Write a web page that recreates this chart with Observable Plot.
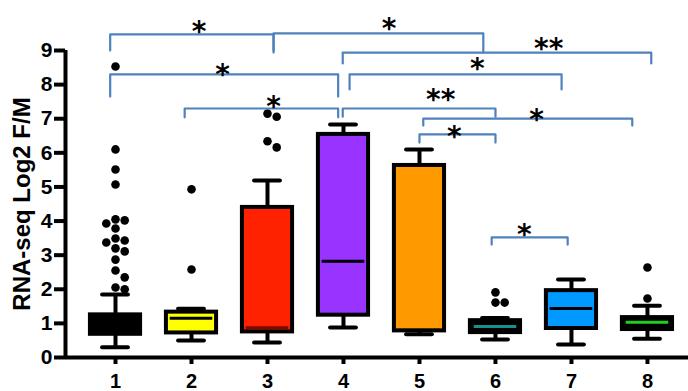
<!DOCTYPE html>
<html>
<head>
<meta charset="utf-8">
<script src="https://cdn.jsdelivr.net/npm/d3@7"></script>
<script src="https://cdn.jsdelivr.net/npm/@observablehq/plot@0.6"></script>
<style>
  html, body { margin: 0; padding: 0; background: #fff; }
</style>
</head>
<body>
<div id="chart"></div>
<script>
// ---- data ----
const categories   = [1, 2, 3, 4, 5, 6, 7, 8];
const boxFill      = ["#000000", "#ffff00", "#ff2200", "#9933ff", "#ff9900", "#000000", "#0099ff", "#000000"];
const medianColor  = ["#000000", "#000000", "#7a0a00", "#000000", "#000000", "#1a8f8f", "#000000", "#22cc22"];
const q1           = [0.68, 0.72, 0.75, 1.24, 0.78, 0.73, 0.85, 0.82];
const median       = [0.95, 1.15, 0.87, 2.82, 0.80, 0.91, 1.44, 1.03];
const q3           = [1.25, 1.33, 4.40, 6.54, 5.63, 1.08, 1.96, 1.17];
const whiskerLow   = [0.30, 0.50, 0.44, 0.88, 0.68, 0.53, 0.38, 0.55];
const whiskerHigh  = [1.85, 1.43, 5.19, 6.83, 6.10, 1.16, 2.29, 1.52];

const outlierCat   = [1,1,1,1,1,1,1,1,1,1,1,1,1,1,1,1,1,1, 2,2, 3,3,3,3, 6,6,6, 8,8];
const outlierValue = [8.53,6.10,5.51,5.07,4.05,4.02,3.93,3.78,3.49,3.43,3.37,3.20,3.11,2.87,2.55,2.35,2.05,2.00,
                      4.93,2.58, 7.15,7.06,6.34,6.16, 1.91,1.61,1.61, 2.64,1.73];

const bracketFrom  = [0.93, 3.08, 3.99, 0.93, 4.08, 1.91, 3.99, 5.05, 5.00, 5.95];
const bracketTo    = [3.08, 5.84, 8.05, 3.93, 6.87, 3.93, 6.00, 7.80, 6.00, 6.95];
const bracketY     = [9.47, 9.50, 8.94, 8.30, 8.30, 7.30, 7.30, 7.00, 6.54, 3.52];
const bracketDrop  = [0.47, 0.56, 0.32, 0.65, 0.44, 0.26, 0.24, 0.20, 0.24, 0.21];
const bracketLabel = ["*", "*", "**", "*", "*", "*", "**", "*", "*", "*"];
const labelX       = [2.10, 4.60, 6.70, 2.41, 5.76, 3.08, 5.28, 6.54, 5.46, 6.38];
const labelY       = [9.74, 9.82, 9.24, 8.50, 8.65, 7.54, 7.74, 7.16, 6.66, 3.81];

const yTicks = [0, 1, 2, 3, 4, 5, 6, 7, 8, 9];
const yLabel = "RNA-seq Log2 F/M";

// ---- layout ----
const W = 688, H = 391;
const mL = 65, mR = 0, mT = 50, mB = 34;
const xDomain = [0.342, 8.54];
const yDomain = [0, 9];
const boxHalf = 0.33, capHalf = 0.17, medInset = 0.05;

const boxes = categories.map((c, i) => ({
  cat: c, fill: boxFill[i], med: medianColor[i],
  q1: q1[i], median: median[i], q3: q3[i], low: whiskerLow[i], high: whiskerHigh[i]
}));

// simple dodge (beeswarm) of outliers around their category
const pxPerX = (W - mL - mR) / (xDomain[1] - xDomain[0]);
const pxPerY = (H - mT - mB) / (yDomain[1] - yDomain[0]);
const dotR = 4.3, minDist = 2 * dotR + 0.6;
const outliers = [];
d3.groups(outlierCat.map((c, i) => ({cat: c, value: outlierValue[i]})), d => d.cat).forEach(([c, pts]) => {
  const placed = [];
  pts.sort((a, b) => b.value - a.value).forEach(p => {
    for (let k = 0; k < 20; k++) {
      const off = (k === 0 ? 0 : (k % 2 ? 1 : -1) * Math.ceil(k / 2)) * minDist;
      const ok = placed.every(q => Math.hypot(q.off - off, (q.value - p.value) * pxPerY) >= minDist);
      if (ok) { placed.push({off, value: p.value}); outliers.push({x: c + off / pxPerX, value: p.value}); break; }
    }
  });
});

const bracketPts = [];
bracketFrom.forEach((f, i) => {
  const t = bracketTo[i], y = bracketY[i], b = y - bracketDrop[i];
  bracketPts.push({id: i, x: f, y: b}, {id: i, x: f, y}, {id: i, x: t, y}, {id: i, x: t, y: b});
});
const labels = bracketLabel.map((s, i) => ({text: s, x: labelX[i], y: labelY[i]}));

const chart = Plot.plot({
  width: W, height: H,
  marginLeft: mL, marginRight: mR, marginTop: mT, marginBottom: mB,
  x: {type: "linear", domain: xDomain, axis: null},
  y: {domain: yDomain, axis: null},
  color: {type: "identity"},
  style: {fontFamily: "'Liberation Sans', Arial, sans-serif", fontWeight: "bold", background: "#fff", color: "#000", overflow: "visible"},
  marks: [
    Plot.axisY({ticks: yTicks, tickSize: 11, tickPadding: 2, strokeWidth: 4, fontSize: 21, label: null}),
    Plot.text([yLabel], {frameAnchor: "left", textAnchor: "middle", rotate: -90, dx: -43, fontSize: 24, fontWeight: "bold", text: d => d, fill: "#000"}),
    Plot.axisX({ticks: categories, tickSize: 7, tickPadding: 9, strokeWidth: 4, fontSize: 20, tickFormat: d => String(d), label: null}),
    Plot.ruleX([xDomain[0]], {y1: yDomain[0], y2: yDomain[1], strokeWidth: 4}),
    Plot.ruleY([0], {x1: xDomain[0], x2: xDomain[1], strokeWidth: 4}),
    // whiskers
    Plot.ruleX(boxes, {x: "cat", y1: "low", y2: "high", strokeWidth: 4}),
    Plot.ruleY(boxes, {y: "low", x1: d => d.cat - capHalf, x2: d => d.cat + capHalf, strokeWidth: 4, strokeLinecap: "round"}),
    Plot.ruleY(boxes, {y: "high", x1: d => d.cat - capHalf, x2: d => d.cat + capHalf, strokeWidth: 4, strokeLinecap: "round"}),
    // boxes
    Plot.rect(boxes, {x1: d => d.cat - boxHalf, x2: d => d.cat + boxHalf, y1: "q1", y2: "q3", fill: "fill", stroke: "#000", strokeWidth: 4}),
    Plot.ruleY(boxes, {y: "median", x1: d => d.cat - boxHalf + medInset, x2: d => d.cat + boxHalf - medInset, stroke: "med", strokeWidth: 3}),
    // outliers
    Plot.dot(outliers, {x: "x", y: "value", r: dotR, fill: "#000", stroke: null}),
    // significance brackets
    Plot.line(bracketPts, {x: "x", y: "y", z: "id", stroke: "#4f81bd", strokeWidth: 2.2, strokeLinejoin: "round", strokeLinecap: "round"}),
    Plot.text(labels, {x: "x", y: "y", text: "text", fontSize: 28, fontWeight: "bold", fontFamily: "'DejaVu Sans', sans-serif", dy: 7, fill: "#000"})
  ]
});
document.getElementById("chart").appendChild(chart);
</script>
</body>
</html>
